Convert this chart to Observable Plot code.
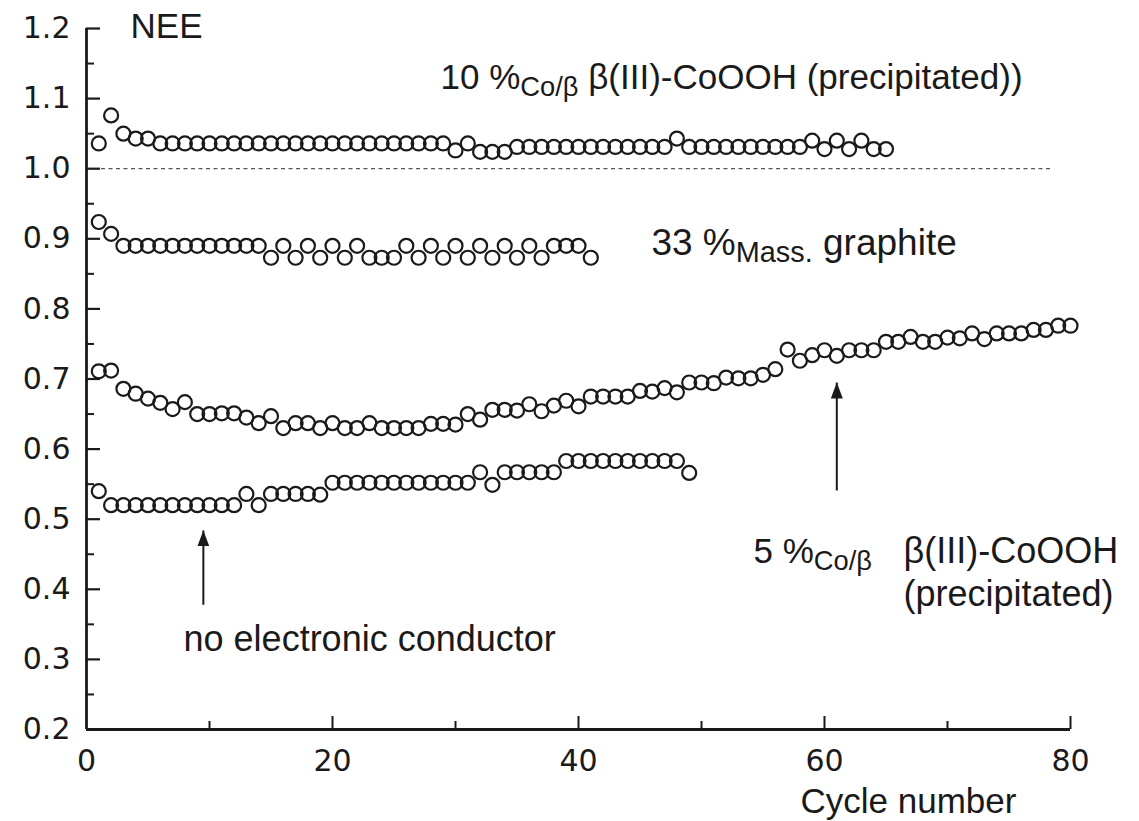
<!DOCTYPE html>
<html><head><meta charset="utf-8">
<script src="https://cdn.jsdelivr.net/npm/d3@7"></script>
<script src="https://cdn.jsdelivr.net/npm/@observablehq/plot@0.6"></script>
<style>body{margin:0;background:#fff} svg{display:block}</style>
</head><body><div id="chart"></div>
<script>
// NEE values per cycle (cycle = index + 1)
const nee10CoPrecip = [1.036,1.076,1.050,1.043,1.043,
  1.036,1.036,1.036,1.036,1.036,1.036,1.036,1.036,1.036,1.036,1.036,1.036,1.036,1.036,1.036,1.036,1.036,1.036,1.036,1.036,1.036,1.036,1.036,1.036,
  1.026,1.036,1.024,1.024,1.024,
  1.031,1.031,1.031,1.031,1.031,1.031,1.031,1.031,1.031,1.031,1.031,1.031,1.031,
  1.043,
  1.031,1.031,1.031,1.031,1.031,1.031,1.031,1.031,1.031,1.031,
  1.040,1.028,1.040,1.028,1.040,1.028,1.028];
const nee33Graphite = [0.924,0.907,
  0.890,0.890,0.890,0.890,0.890,0.890,0.890,0.890,0.890,0.890,0.890,0.890,
  0.873,0.890,0.873,0.890,0.873,0.890,0.873,0.890,0.873,0.873,0.873,0.890,0.873,0.890,0.873,0.890,
  0.873,0.890,0.873,0.890,0.873,0.890,0.873,0.890,0.890,0.890,0.873];
const nee5CoPrecip = [0.711,0.712,0.686,0.679,0.672,0.666,0.657,0.667,0.650,0.650,
  0.651,0.651,0.645,0.637,0.647,0.630,0.637,0.637,0.630,0.637,
  0.630,0.630,0.637,0.630,0.630,0.630,0.630,0.636,0.636,0.635,
  0.650,0.642,0.656,0.656,0.655,0.664,0.654,0.662,0.669,0.661,
  0.675,0.675,0.675,0.675,0.683,0.682,0.687,0.681,0.695,0.695,
  0.694,0.702,0.701,0.701,0.706,0.714,0.742,0.726,0.734,0.741,
  0.733,0.741,0.741,0.741,0.753,0.753,0.760,0.753,0.753,0.759,
  0.758,0.765,0.757,0.765,0.765,0.765,0.770,0.770,0.776,0.776];
const neeNoConductor = [0.540,
  0.520,0.520,0.520,0.520,0.520,0.520,0.520,0.520,0.520,0.520,0.520,
  0.536,0.520,0.536,0.536,0.536,0.536,0.535,
  0.552,0.552,0.552,0.552,0.552,0.552,0.552,0.552,0.552,0.552,0.552,0.552,
  0.567,0.549,0.567,0.567,0.567,0.567,0.567,
  0.583,0.583,0.583,0.583,0.583,0.583,0.583,0.583,0.583,0.583,
  0.566];

const seriesList = [nee10CoPrecip, nee33Graphite, nee5CoPrecip, neeNoConductor];

const yTickLabels = [0.2,0.3,0.4,0.5,0.6,0.7,0.8,0.9,1.0,1.1,1.2];
const yMinorTicks = [0.25,0.35,0.45,0.55,0.65,0.75,0.85,0.95,1.05,1.15];
const xTickLabels = [0,20,40,60,80];
const xMinorTicks = [10,30,50,70];
const referenceLevel = 1.0;

const annotationTexts = ["NEE",
  "10 %_{Co/β} β(III)-CoOOH (precipitated))",
  "33 %_{Mass.} graphite",
  "5 %_{Co/β}",
  "β(III)-CoOOH\n(precipitated)",
  "no electronic conductor",
  "Cycle number"];
const annotationX = [3.58, 28.78, 45.93, 54.23, 66.42, 7.89, 58.05];
const annotationY = [1.187, 1.1144, 0.8762, 0.4382, 0.3755, 0.3113, 0.0813];
const annotationSize = [35, 35, 37, 35, 36, 36, 35];

const arrowX = [9.5, 61.0];
const arrowFrom = [0.378, 0.541];
const arrowTo = [0.484, 0.695];

// build tables
const points = seriesList.flatMap((vals, s) => vals.map((v, i) => ({cycle: i + 1, nee: v, s})));
const labels = annotationTexts.map((t, i) => ({t, x: annotationX[i], y: annotationY[i], size: annotationSize[i]}));
const arrows = arrowX.map((x, i) => ({x, y1: arrowFrom[i], y2: arrowTo[i]}));

const W = 1139, H = 821, mL = 86, mR = 69, mT = 28, mB = 92;
const plotW = W - mL - mR, plotH = H - mT - mB;
const ink = "#1a1a1a";

function filledArrow(color, context) {
  const m = d3.create("svg:marker")
    .attr("viewBox", "-16 -6 16 12")
    .attr("markerWidth", 16).attr("markerHeight", 12)
    .attr("markerUnits", "userSpaceOnUse")
    .attr("orient", "auto").attr("refX", 0).attr("refY", 0)
    .attr("fill", color).attr("stroke", "none");
  m.append("path").attr("d", "M-16,-6L0,0L-16,6Z");
  return m.node();
}

const textMarks = labels.map(l => Plot.text([l], {
  x: "x", y: "y", text: "t", textAnchor: "start", lineAnchor: "bottom",
  lineHeight: 1.2, fontSize: l.size, fill: ink
}));

const tickFont = "'DejaVu Sans', 'Liberation Sans', sans-serif";

const chart = Plot.plot({
  width: W, height: H,
  marginLeft: mL, marginRight: mR, marginTop: mT, marginBottom: mB,
  x: {domain: [0, 80]},
  y: {domain: [0.2, 1.2]},
  style: {fontFamily: "'Liberation Sans', Arial, sans-serif", color: ink, background: "white", overflow: "visible"},
  marks: [
    Plot.ruleY([referenceLevel], {x1: 0, x2: 78.5, stroke: "#555", strokeWidth: 1.2, strokeDasharray: "4,3.5"}),
    Plot.tickY(yTickLabels, {y: d => d, insetRight: plotW - 14, strokeWidth: 2.2, stroke: ink}),
    Plot.tickY(yMinorTicks, {y: d => d, insetRight: plotW - 8, strokeWidth: 2, stroke: ink}),
    Plot.tickX(xTickLabels.slice(1), {x: d => d, insetTop: plotH - 13, strokeWidth: 2, stroke: ink}),
    Plot.tickX(xMinorTicks, {x: d => d, insetTop: plotH - 8, strokeWidth: 2, stroke: ink}),
    Plot.ruleX([0], {y1: 0.2, y2: 1.2, strokeWidth: 2.8, stroke: ink}),
    Plot.ruleY([0.2], {x1: 0, x2: 80, strokeWidth: 2.8, stroke: ink}),
    Plot.axisY({ticks: yTickLabels, tickSize: 0, tickPadding: 16, tickFormat: ".1f", fontSize: 30, fontFamily: tickFont, label: null}),
    Plot.axisX({ticks: xTickLabels, tickSize: 0, tickPadding: 20, fontSize: 30, fontFamily: tickFont, label: null}),
    Plot.dot(points, {x: "cycle", y: "nee", symbol: "circle", r: 7, stroke: ink, strokeWidth: 2.2, fill: "none"}),
    Plot.link(arrows, {x1: "x", x2: "x", y1: "y1", y2: "y2", stroke: ink, strokeWidth: 2, markerEnd: filledArrow}),
    ...textMarks
  ]
});

// subscripts: "_{...}" -> smaller, lowered tspan
chart.querySelectorAll("text").forEach(t => {
  const s = t.textContent;
  if (!s.includes("_{") || t.querySelector("tspan")) return;
  t.textContent = "";
  let shifted = false;
  s.split(/(_\{[^}]*\})/).forEach(p => {
    if (!p) return;
    const ts = document.createElementNS("http://www.w3.org/2000/svg", "tspan");
    if (p.startsWith("_{")) {
      ts.textContent = p.slice(2, -1);
      ts.setAttribute("font-size", "0.78em");
      ts.setAttribute("dy", "7");
      shifted = true;
    } else {
      ts.textContent = p;
      if (shifted) { ts.setAttribute("dy", "-7"); shifted = false; }
    }
    t.appendChild(ts);
  });
});

document.getElementById("chart").appendChild(chart);
</script>
</body></html>
